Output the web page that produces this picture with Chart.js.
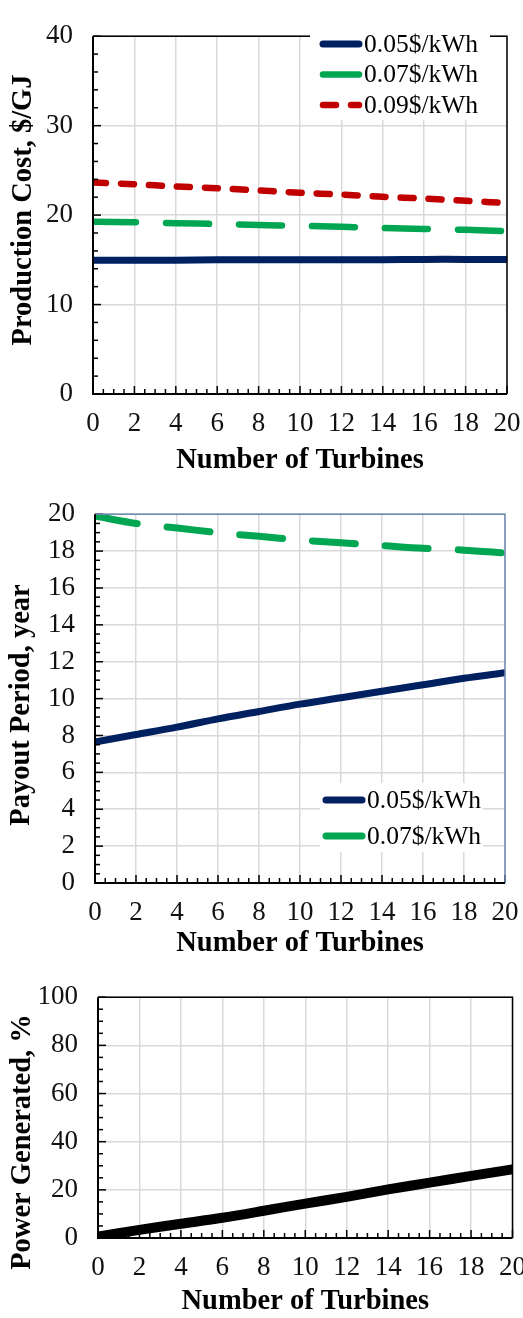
<!DOCTYPE html>
<html>
<head>
<meta charset="utf-8">
<script src="https://cdn.jsdelivr.net/npm/chart.js@4.4.1/dist/chart.umd.min.js"></script>
<style>
  body { margin: 0; background: #fff; width: 523px; height: 1318px; overflow: hidden; position: relative; }
  .box { position: absolute; left: 0; }
  canvas { display: block; }
</style>
</head>
<body>
<div class="box" style="top:0"><canvas id="cost" width="540" height="478"></canvas></div>
<div class="box" style="top:478px"><canvas id="payout" width="540" height="483"></canvas></div>
<div class="box" style="top:961px"><canvas id="power" width="540" height="358"></canvas></div>
<script>
// data
const turbines = [0, 2, 4, 6, 8, 10, 12, 14, 16, 18, 20];

const cost005 = [14.95, 14.95, 14.95, 15.0, 15.0, 15.0, 15.0, 15.0, 15.05, 15.05, 15.05];
const cost007 = [19.25, 19.2, 19.1, 19.0, 18.9, 18.8, 18.7, 18.55, 18.45, 18.35, 18.2];
const cost009 = [23.65, 23.45, 23.2, 23.0, 22.75, 22.5, 22.3, 22.05, 21.85, 21.6, 21.35];

const payout005 = [7.65, 8.05, 8.45, 8.9, 9.3, 9.7, 10.05, 10.4, 10.75, 11.1, 11.4];
const payout007 = [19.9, 19.5, 19.25, 19.0, 18.8, 18.6, 18.45, 18.3, 18.15, 18.05, 17.9];

const powerGen = [0.6, 3.4, 5.9, 8.4, 11.3, 14.3, 17.1, 20.2, 23.0, 25.8, 28.5];

const labels = ['0.05$/kWh', '0.07$/kWh', '0.09$/kWh'];

const serif = "'Liberation Serif', 'Times New Roman', serif";
const navy = '#002060';
const green = '#00a651';
const red = '#c00000';
const gridGray = '#d9d9d9';

function pts(ys) {
  return turbines.map((x, i) => ({ x: x, y: ys[i] }));
}

// minor ticks, frame, inside legend and y title
const decor = {
  id: 'decor',
  afterDatasetsDraw(chart, args, opts) {
    const { ctx, chartArea: a, scales: { x, y } } = chart;
    ctx.save();

    ctx.strokeStyle = '#000';
    ctx.lineWidth = 1.5;
    x.ticks.forEach(t => {
      const px = x.getPixelForValue(t.value);
      const len = t.value % opts.xMajor === 0 ? 8 : 5;
      ctx.beginPath();
      ctx.moveTo(px, a.bottom);
      ctx.lineTo(px, a.bottom - len);
      ctx.stroke();
    });
    y.ticks.forEach(t => {
      const py = y.getPixelForValue(t.value);
      const len = t.value % opts.yMajor === 0 ? 8 : 5;
      ctx.beginPath();
      ctx.moveTo(a.left, py);
      ctx.lineTo(a.left + len, py);
      ctx.stroke();
    });

    // frame
    ctx.lineWidth = 1.5;
    ctx.strokeStyle = opts.frameColor;
    ctx.beginPath();
    ctx.moveTo(a.left, a.top);
    ctx.lineTo(a.right, a.top);
    ctx.lineTo(a.right, a.bottom);
    ctx.stroke();
    ctx.lineWidth = 2;
    ctx.strokeStyle = '#000';
    ctx.beginPath();
    ctx.moveTo(a.left, a.top);
    ctx.lineTo(a.left, a.bottom);
    ctx.lineTo(a.right, a.bottom);
    ctx.stroke();

    // legend inside the plot
    if (opts.legend) {
      const lg = opts.legend;
      ctx.fillStyle = '#fff';
      ctx.fillRect(lg.left, lg.top, lg.width, lg.height);
      ctx.font = '25.5px ' + serif;
      ctx.textBaseline = 'middle';
      chart.data.datasets.forEach((ds, i) => {
        const ly = lg.firstRow + i * lg.rowGap;
        ctx.strokeStyle = ds.borderColor;
        ctx.lineWidth = ds.borderWidth;
        ctx.lineCap = 'round';
        ctx.setLineDash(ds.borderDash || []);
        ctx.beginPath();
        ctx.moveTo(lg.lineX + 3, ly);
        ctx.lineTo(lg.lineX + lg.lineLen - 3, ly);
        ctx.stroke();
        ctx.setLineDash([]);
        ctx.fillStyle = '#000';
        ctx.fillText(ds.label, lg.lineX + lg.lineLen + 2, ly + 1);
      });
    }

    // y axis title
    ctx.font = 'bold 28.5px ' + serif;
    ctx.fillStyle = '#000';
    ctx.textAlign = 'center';
    ctx.textBaseline = 'middle';
    ctx.translate(opts.yTitle.x, opts.yTitle.y);
    ctx.rotate(-Math.PI / 2);
    ctx.fillText(y.options.title.text, 0, 0);

    ctx.restore();
  }
};

function makeOptions(cfg) {
  return {
    responsive: false,
    animation: false,
    layout: { padding: { left: 0, top: cfg.top, right: 540 - cfg.right, bottom: 0 } },
    plugins: {
      legend: { display: false },
      tooltip: { enabled: false },
      decor: cfg.decor
    },
    elements: { point: { radius: 0 }, line: { tension: 0.3 } },
    scales: {
      x: {
        type: 'linear',
        min: 0,
        max: 20,
        afterFit: s => { s.height = cfg.xHeight; },
        border: { display: false },
        grid: {
          drawTicks: false,
          lineWidth: 1.5,
          color: c => (c.tick && c.tick.value % 2 === 0) ? gridGray : 'rgba(0,0,0,0)'
        },
        ticks: {
          stepSize: 0.5,
          autoSkip: false,
          maxRotation: 0,
          padding: 14,
          color: '#111',
          font: { family: serif, size: 27 },
          callback: v => v % 2 === 0 ? v : ''
        },
        title: {
          display: true,
          text: 'Number of Turbines',
          color: '#000',
          padding: { top: 0, bottom: 0 },
          font: { family: serif, size: 28.5, weight: 'bold' }
        }
      },
      y: {
        min: 0,
        max: cfg.yMax,
        afterFit: s => { s.width = cfg.left; },
        border: { display: false },
        grid: {
          drawTicks: false,
          lineWidth: 1.5,
          color: c => (c.tick && c.tick.value % cfg.yMajor === 0) ? gridGray : 'rgba(0,0,0,0)'
        },
        ticks: {
          stepSize: cfg.yStep,
          autoSkip: false,
          padding: 20,
          color: '#111',
          font: { family: serif, size: 27 },
          callback: v => v % cfg.yMajor === 0 ? v : ''
        },
        title: { display: false, text: cfg.yTitle }
      }
    }
  };
}

function lineSet(label, ys, color, width, dash) {
  return {
    label: label,
    data: pts(ys),
    borderColor: color,
    backgroundColor: color,
    borderWidth: width,
    borderDash: dash,
    borderCapStyle: 'round',
    clip: 0
  };
}

new Chart(document.getElementById('cost'), {
  type: 'line',
  data: {
    datasets: [
      lineSet(labels[0], cost005, navy, 7, []),
      lineSet(labels[1], cost007, green, 6.5, [43, 30]),
      lineSet(labels[2], cost009, red, 6.5, [13, 15])
    ]
  },
  options: makeOptions({
    top: 16, right: 507, left: 93, xHeight: 84, yMax: 40, yStep: 2, yMajor: 10,
    yTitle: 'Production Cost, $/GJ',
    decor: {
      xMajor: 2, yMajor: 10, frameColor: '#000',
      yTitle: { x: 24, y: 210 },
      legend: { left: 310, top: 28, width: 180, height: 92, lineX: 320, lineLen: 42, firstRow: 44, rowGap: 30.5 }
    }
  }),
  plugins: [decor]
});

new Chart(document.getElementById('payout'), {
  type: 'line',
  data: {
    datasets: [
      lineSet(labels[0], payout005, navy, 7, []),
      lineSet(labels[1], payout007, green, 7, [43, 30])
    ]
  },
  options: makeOptions({
    top: 27, right: 505, left: 95, xHeight: 78, yMax: 20, yStep: 0.5, yMajor: 2,
    yTitle: 'Payout Period, year',
    decor: {
      xMajor: 2, yMajor: 2, frameColor: '#6d8bb0',
      yTitle: { x: 22, y: 227 },
      legend: { left: 320, top: 305, width: 163, height: 69, lineX: 323, lineLen: 42, firstRow: 322, rowGap: 36 }
    }
  }),
  plugins: [decor]
});

new Chart(document.getElementById('power'), {
  type: 'line',
  data: {
    datasets: [
      lineSet('Power Generated', powerGen, '#000', 10, [])
    ]
  },
  options: makeOptions({
    top: 36, right: 514, left: 98, xHeight: 81, yMax: 100, yStep: 5, yMajor: 20,
    yTitle: 'Power Generated, %',
    decor: {
      xMajor: 2, yMajor: 20, frameColor: '#000',
      yTitle: { x: 23, y: 181 }
    }
  }),
  plugins: [decor]
});
</script>
</body>
</html>
